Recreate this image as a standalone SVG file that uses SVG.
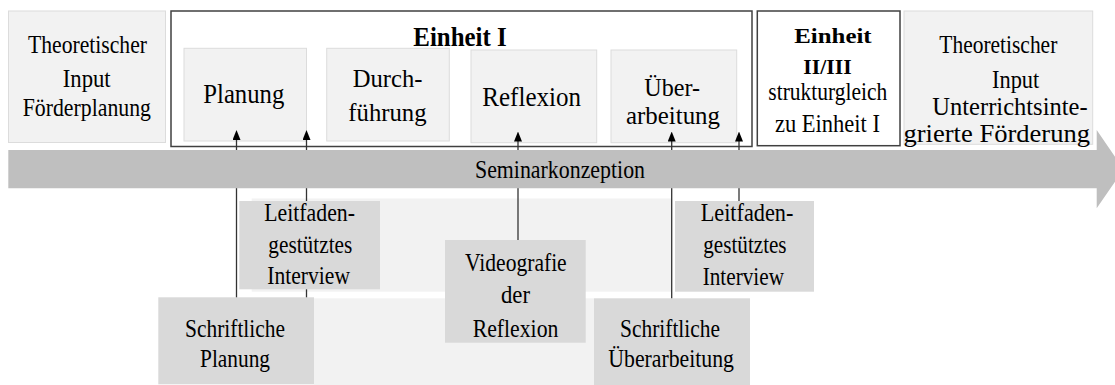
<svg xmlns="http://www.w3.org/2000/svg" width="1115" height="385" viewBox="0 0 1115 385">
<style>
text{font-family:"Liberation Serif","Times New Roman",serif;fill:#000;}
.t26{font-size:26px;}
.t28{font-size:28px;}
.t25{font-size:25px;}
.b{font-weight:bold;}
.light{fill:#f2f2f2;stroke:#dcdcdc;stroke-width:1;}
.frame{fill:#fff;stroke:#404040;stroke-width:1.5;}
.src{fill:#d9d9d9;}
.bg{fill:#f2f2f2;}
.con{stroke:#333;stroke-width:1.3;fill:none;}
</style>
<defs>
<marker id="ah" viewBox="0 0 10 8" refX="5" refY="4" markerWidth="10" markerHeight="8" markerUnits="userSpaceOnUse" orient="auto">
<path d="M0,0 L10,4 L0,8 z" fill="#000"/>
</marker>
</defs>
<rect width="1115" height="385" fill="#fff"/>
<g id="backgrounds">
<rect class="bg" x="251.7" y="198.5" width="420" height="93.2"/>
<rect class="bg" x="314" y="298.3" width="280" height="86.7"/>
</g>
<g id="input-foerderplanung">
<rect class="light" x="8.5" y="11" width="157" height="131.5"/>
<text class="t26" x="28" y="53" textLength="119" lengthAdjust="spacingAndGlyphs">Theoretischer</text>
<text class="t26" x="62.7" y="87" textLength="48" lengthAdjust="spacingAndGlyphs">Input</text>
<text class="t26" x="22.7" y="116" textLength="128.3" lengthAdjust="spacingAndGlyphs">Förderplanung</text>
</g>
<g id="einheit1">
<rect class="frame" x="171" y="11" width="581" height="135.5"/>
<text class="t28 b" x="413.3" y="46" textLength="93.3" lengthAdjust="spacingAndGlyphs">Einheit I</text>
</g>
<g id="planung">
<rect class="light" x="184" y="48.3" width="122.5" height="92.7"/>
<text class="t28" x="203.3" y="103.3" textLength="81" lengthAdjust="spacingAndGlyphs">Planung</text>
</g>
<g id="durchfuehrung">
<rect class="light" x="326.7" y="48.3" width="122.6" height="92.7"/>
<text class="t26" x="352.7" y="87.3" textLength="69.7" lengthAdjust="spacingAndGlyphs">Durch-</text>
<text class="t26" x="348.3" y="121" textLength="78.3" lengthAdjust="spacingAndGlyphs">führung</text>
</g>
<g id="reflexion">
<rect class="light" x="471" y="50" width="125.7" height="92.7"/>
<text class="t28" x="482.3" y="106" textLength="98.7" lengthAdjust="spacingAndGlyphs">Reflexion</text>
</g>
<g id="ueberarbeitung">
<rect class="light" x="611" y="50" width="125.7" height="92.7"/>
<text class="t26" x="644.3" y="95.5" textLength="55.7" lengthAdjust="spacingAndGlyphs">Über-</text>
<text class="t26" x="626" y="124" textLength="94" lengthAdjust="spacingAndGlyphs">arbeitung</text>
</g>
<g id="einheit23">
<rect class="frame" x="757.3" y="11" width="142.7" height="134.7"/>
<text class="b" style="font-size:22px" x="794.3" y="43.3" textLength="77.3" lengthAdjust="spacingAndGlyphs">Einheit</text>
<text class="b" style="font-size:22px" x="803.3" y="74" textLength="48.3" lengthAdjust="spacingAndGlyphs">II/III</text>
<text class="t25" x="768.3" y="100" textLength="119" lengthAdjust="spacingAndGlyphs">strukturgleich</text>
<text class="t25" x="775" y="131.7" textLength="105" lengthAdjust="spacingAndGlyphs">zu Einheit I</text>
</g>
<g id="input-unterricht">
<rect class="light" x="904" y="11" width="188.7" height="133.3"/>
<text class="t26" x="939.3" y="53.3" textLength="118" lengthAdjust="spacingAndGlyphs">Theoretischer</text>
<text class="t26" x="992" y="87.5" textLength="47.3" lengthAdjust="spacingAndGlyphs">Input</text>
<text class="t26" x="932.3" y="115" textLength="155.3" lengthAdjust="spacingAndGlyphs">Unterrichtsinte-</text>
<text class="t26" x="903.5" y="142.3" textLength="186.5" lengthAdjust="spacingAndGlyphs">grierte Förderung</text>
</g>
<g id="interview1">
<rect class="src" x="239.3" y="201" width="140.7" height="88.3"/>
<text class="t25" x="264.3" y="220.5" textLength="90.7" lengthAdjust="spacingAndGlyphs">Leitfaden-</text>
<text class="t25" x="268.3" y="253.3" textLength="84" lengthAdjust="spacingAndGlyphs">gestütztes</text>
<text class="t25" x="267.3" y="284.3" textLength="82.7" lengthAdjust="spacingAndGlyphs">Interview</text>
</g>
<g id="schriftliche-planung">
<rect class="src" x="158.3" y="297.3" width="155.7" height="87"/>
<text class="t25" x="185" y="336.7" textLength="100" lengthAdjust="spacingAndGlyphs">Schriftliche</text>
<text class="t25" x="200" y="366.7" textLength="70" lengthAdjust="spacingAndGlyphs">Planung</text>
</g>
<g id="videografie">
<rect class="src" x="445" y="240" width="140.7" height="102.7"/>
<text class="t25" x="465" y="271" textLength="101.7" lengthAdjust="spacingAndGlyphs">Videografie</text>
<text class="t25" x="501" y="303.3" textLength="29" lengthAdjust="spacingAndGlyphs">der</text>
<text class="t25" x="472.7" y="336.7" textLength="85.7" lengthAdjust="spacingAndGlyphs">Reflexion</text>
</g>
<g id="interview2">
<rect class="src" x="675" y="201" width="139" height="90.7"/>
<text class="t25" x="700.7" y="220.5" textLength="92.7" lengthAdjust="spacingAndGlyphs">Leitfaden-</text>
<text class="t25" x="703.3" y="253.3" textLength="83.3" lengthAdjust="spacingAndGlyphs">gestütztes</text>
<text class="t25" x="702.7" y="285" textLength="81.3" lengthAdjust="spacingAndGlyphs">Interview</text>
</g>
<g id="schriftliche-ueberarbeitung">
<rect class="src" x="594" y="298.3" width="156" height="86.7"/>
<text class="t25" x="620" y="336.7" textLength="100" lengthAdjust="spacingAndGlyphs">Schriftliche</text>
<text class="t25" x="608.3" y="366.7" textLength="125.7" lengthAdjust="spacingAndGlyphs">Überarbeitung</text>
</g>
<g id="connectors">
<line class="con" x1="236.5" y1="297.3" x2="236.5" y2="135" marker-end="url(#ah)"/>
<line class="con" x1="306.5" y1="201" x2="306.5" y2="135" marker-end="url(#ah)"/>
<line class="con" x1="306.5" y1="289.3" x2="306.5" y2="297.3"/>
<line class="con" x1="518" y1="240" x2="518" y2="136.5" marker-end="url(#ah)"/>
<line class="con" x1="671.7" y1="298.3" x2="671.7" y2="136.5" marker-end="url(#ah)"/>
<line class="con" x1="739" y1="201" x2="739" y2="136.5" marker-end="url(#ah)"/>
</g>
<g id="seminarkonzeption">
<polygon points="8.3,150 1096.7,150 1096.7,130 1123.6,169.2 1096.7,208.3 1096.7,188.3 8.3,188.3" fill="#bfbfbf"/>
<text class="t25" x="475" y="177.5" textLength="170" lengthAdjust="spacingAndGlyphs">Seminarkonzeption</text>
</g>
</svg>
